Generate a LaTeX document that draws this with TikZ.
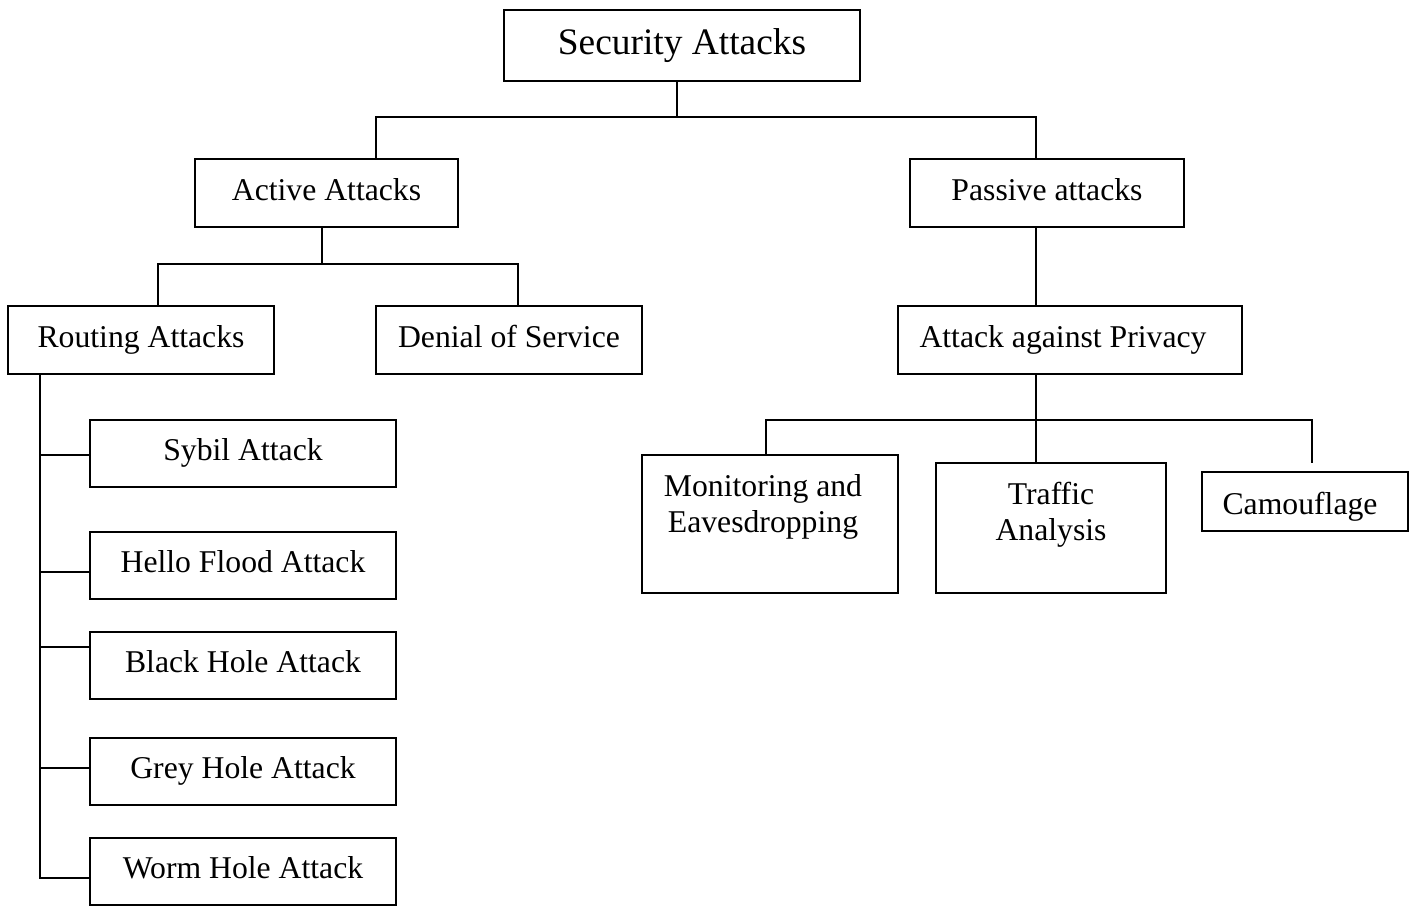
\documentclass[tikz,border=0pt]{standalone}
\usepackage{fontspec}
\setmainfont{Liberation Serif}
\begin{document}
\begin{tikzpicture}[x=1pt,y=-1pt,
  box/.style={draw, line width=1.7pt, inner sep=0pt, align=center,
    text height=21.8pt, text depth=7pt,
    font=\fontsize{31.7}{36}\selectfont},
  txt/.style={inner sep=0pt, align=center, font=\fontsize{31.7}{36}\selectfont},
  link/.style={line width=1.7pt}]
\useasboundingbox (0,0) rectangle (1418,906);
% boxes
\node[box, minimum width=356pt, minimum height=71pt, text height=25.5pt, text depth=7.2pt, font=\fontsize{37.4}{42}\selectfont] (sec) at (682,45.5) {Security Attacks};
\node[box, minimum width=263pt, minimum height=68pt] (act) at (326.5,193) {Active Attacks};
\node[box, minimum width=274pt, minimum height=68pt] (pas) at (1047,193) {Passive attacks};
\node[box, minimum width=266pt, minimum height=68pt] (rout) at (141,340) {Routing Attacks};
\node[box, minimum width=266pt, minimum height=68pt] (dos) at (509,340) {Denial of Service};
\node[box, minimum width=344pt, minimum height=68pt] (priv) at (1070,340) {\hspace*{-14pt}Attack against Privacy};
\node[box, minimum width=306pt, minimum height=67pt] (syb) at (243,453.5) {Sybil Attack};
\node[box, minimum width=306pt, minimum height=67pt] (hel) at (243,565.5) {Hello Flood Attack};
\node[box, minimum width=306pt, minimum height=67pt] (bla) at (243,665.5) {Black Hole Attack};
\node[box, minimum width=306pt, minimum height=67pt] (gre) at (243,771.5) {Grey Hole Attack};
\node[box, minimum width=306pt, minimum height=67pt] (wor) at (243,871.5) {Worm Hole Attack};
\node[box, minimum width=256pt, minimum height=138pt] (mon) at (770,524) {};
\node[txt] (montxt) at (763,506.5) {Monitoring and\\Eavesdropping};
\node[box, minimum width=230pt, minimum height=130pt] (tra) at (1051,528) {};
\node[txt] (tratxt) at (1051,515) {Traffic\\Analysis};
\node[box, minimum width=206pt, minimum height=59pt, text height=27.8pt, text depth=1pt] (cam) at (1305,501.5) {\hspace*{-10pt}Camouflage};
% junctions
\coordinate (j1) at (677,117);
\coordinate (j2) at (322,264);
\coordinate (j3) at (1036,420);
\coordinate (camend) at (1312,463);
\coordinate (rs) at (40,374);
% connectors
\draw[link] (sec.south -| j1) -- (j1);
\draw[link] (act.north -| 376,0) |- (j1) -| (pas.north -| 1036,0);
\draw[link] (act.south -| j2) -- (j2);
\draw[link] (rout.north -| 158,0) |- (j2) -| (dos.north -| 518,0);
\draw[link] (pas.south -| 1036,0) -- (priv.north -| 1036,0);
\draw[link] (priv.south -| j3) -- (tra.north -| j3);
\draw[link] (mon.north -| 766,0) |- (j3) -| (camend);
\draw[link] (rout.south -| rs) |- (wor.west |- 0,878);
\draw[link] (rs |- 0,455) -- (syb.west |- 0,455);
\draw[link] (rs |- 0,572) -- (hel.west |- 0,572);
\draw[link] (rs |- 0,647) -- (bla.west |- 0,647);
\draw[link] (rs |- 0,768) -- (gre.west |- 0,768);
\end{tikzpicture}
\end{document}
